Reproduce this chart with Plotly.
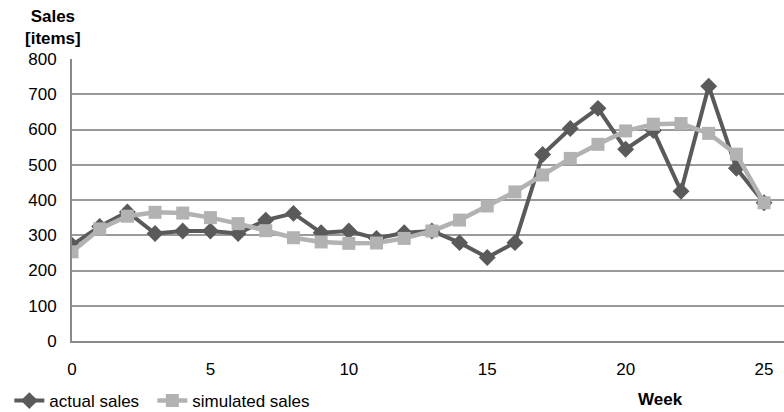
import plotly.graph_objects as go

# Weekly sales figures
weeks = list(range(26))
actual_sales = [272, 325, 366, 305, 312, 312, 305, 343, 362, 307, 312, 291, 307,
                312, 279, 237, 279, 529, 603, 660, 544, 597, 425, 723, 490, 392]
simulated_sales = [253, 318, 354, 365, 363, 350, 333, 313, 293, 281, 277, 278, 291,
                   312, 343, 383, 423, 471, 518, 558, 596, 615, 617, 589, 530, 392]
x_ticks = [0, 5, 10, 15, 20, 25]
y_ticks = [0, 100, 200, 300, 400, 500, 600, 700, 800]

DARK = "#5a5a5a"
LIGHT = "#b2b2b2"
FONT = "Liberation Sans, Arial, sans-serif"
FS = 17

fig = go.Figure()
fig.add_trace(go.Scatter(
    x=weeks, y=actual_sales, name="actual sales", mode="lines+markers",
    line=dict(color=DARK, width=4),
    marker=dict(symbol="diamond", size=13, color=DARK),
    legendwidth=98,
))
fig.add_trace(go.Scatter(
    x=weeks, y=simulated_sales, name="simulated sales", mode="lines+markers",
    line=dict(color=LIGHT, width=4.5),
    marker=dict(symbol="square", size=13, color=LIGHT),
    legendwidth=140,
))

fig.update_layout(
    width=784, height=412,
    margin=dict(l=72, r=0, t=59, b=71, autoexpand=False),
    paper_bgcolor="white", plot_bgcolor="white",
    font=dict(family=FONT, size=FS, color="#000000"),
    showlegend=True,
    legend=dict(
        orientation="h", x=-0.088, y=-0.213, xanchor="left", yanchor="middle",
        font=dict(size=FS), itemwidth=30,
        traceorder="normal", bgcolor="rgba(0,0,0,0)",
    ),
    xaxis=dict(
        range=[0, 25.72], tickvals=x_ticks, ticks="", showgrid=False,
        showline=True, linecolor="#8a8a8a", linewidth=2, zeroline=False,
        tickfont=dict(size=FS), ticklabelstandoff=12,
    ),
    yaxis=dict(
        range=[0, 800], tickvals=y_ticks, ticks="", showgrid=True,
        gridcolor="#9a9a9a", gridwidth=1.5, showline=True, linecolor="#8a8a8a",
        linewidth=2, zeroline=False, tickfont=dict(size=FS), ticklabelstandoff=10,
    ),
    annotations=[
        dict(text="<b>Sales</b><br><b>[items]</b>", xref="paper", yref="paper",
             x=-0.027, y=1.0, xanchor="center", yanchor="bottom", yshift=9,
             showarrow=False, align="center", font=dict(size=FS)),
        dict(text="<b>Week</b>", xref="paper", yref="paper",
             x=0.827, y=-0.209, xanchor="center", yanchor="middle",
             showarrow=False, font=dict(size=FS)),
    ],
)

fig.write_html("out.html")
